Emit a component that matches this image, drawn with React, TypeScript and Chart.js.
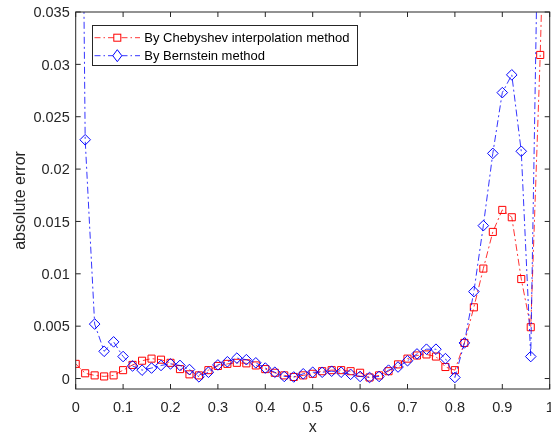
import React, { useEffect, useRef } from 'react';
import { Chart, registerables } from 'chart.js';

Chart.register(...registerables);

// ---- data ----
const xValues = [
  0, 0.02, 0.04, 0.06, 0.08, 0.1, 0.12, 0.14, 0.16, 0.18,
  0.2, 0.22, 0.24, 0.26, 0.28, 0.3, 0.32, 0.34, 0.36, 0.38,
  0.4, 0.42, 0.44, 0.46, 0.48, 0.5, 0.52, 0.54, 0.56, 0.58,
  0.6, 0.62, 0.64, 0.66, 0.68, 0.7, 0.72, 0.74, 0.76, 0.78,
  0.8, 0.82, 0.84, 0.86, 0.88, 0.9, 0.92, 0.94, 0.96, 0.98, 1.0,
];

const chebyshevErr = [
  0.0014, 0.0005, 0.0003, 0.0002, 0.0003, 0.0008, 0.0013, 0.0017, 0.0019, 0.0018,
  0.0015, 0.0009, 0.0004, 0.0003, 0.0008, 0.0012, 0.0014, 0.0015, 0.00145, 0.00125,
  0.0009, 0.00055, 0.0003, 0.00015, 0.0003, 0.00045, 0.0007, 0.0008, 0.0008, 0.0007,
  0.00055, 0.0001, 0.0003, 0.0007, 0.00135, 0.0019, 0.0022, 0.0023, 0.0021, 0.0011,
  0.0008, 0.0034, 0.0068, 0.0105, 0.014, 0.0161, 0.0154, 0.0095, 0.0049, 0.0309, 0.064,
];

const bernsteinErr = [
  0.12, 0.0228, 0.0052, 0.0026, 0.0035, 0.0021, 0.0012, 0.0008, 0.001, 0.00125,
  0.0014, 0.00125, 0.00086, 0.00016, 0.0006, 0.0013, 0.0016, 0.00195, 0.0018, 0.0015,
  0.001, 0.0006, 0.0002, 0.00015, 0.00045, 0.0006, 0.0006, 0.0007, 0.0006, 0.0004,
  0.0002, 0.0001, 0.0002, 0.0008, 0.0011, 0.0017, 0.00235, 0.0028, 0.0028, 0.0019,
  0.0001, 0.0034, 0.0083, 0.0146, 0.0215, 0.0273, 0.029, 0.0217, 0.0021, 0.057, 0.1,
];

const seriesLabels = ['By Chebyshev interpolation method', 'By Bernstein method'];
const xTickValues = [0, 0.1, 0.2, 0.3, 0.4, 0.5, 0.6, 0.7, 0.8, 0.9, 1];
const xTickLabels = ['0', '0.1', '0.2', '0.3', '0.4', '0.5', '0.6', '0.7', '0.8', '0.9', '1'];
const yTickValues = [0, 0.005, 0.01, 0.015, 0.02, 0.025, 0.03, 0.035];
const yTickLabels = ['0', '0.005', '0.01', '0.015', '0.02', '0.025', '0.03', '0.035'];
const xAxisTitle = 'x';
const yAxisTitle = 'absolute error';

const RED = '#ff0000';
const BLUE = '#0000ff';
const AXIS = '#262626';
const FONT = '"Liberation Sans", Arial, Helvetica, sans-serif';
const CANVAS_W = 556;
const CANVAS_H = 433;

const matlabAxes = {
  id: 'matlabAxes',
  afterDraw(chart: any) {
    const { ctx, chartArea: a, scales } = chart;
    const xs = scales.x;
    const ys = scales.y;
    ctx.save();
    ctx.strokeStyle = AXIS;
    ctx.lineWidth = 1;
    ctx.setLineDash([]);
    // box
    ctx.strokeRect(a.left, a.top, a.right - a.left, a.bottom - a.top);
    const TL = 5;
    ctx.beginPath();
    xTickValues.forEach((v) => {
      const px = xs.getPixelForValue(v);
      ctx.moveTo(px, a.bottom);
      ctx.lineTo(px, a.bottom - TL);
      ctx.moveTo(px, a.top);
      ctx.lineTo(px, a.top + TL);
    });
    yTickValues.forEach((v) => {
      const py = ys.getPixelForValue(v);
      ctx.moveTo(a.left, py);
      ctx.lineTo(a.left + TL, py);
      ctx.moveTo(a.right, py);
      ctx.lineTo(a.right - TL, py);
    });
    ctx.stroke();

    // tick labels
    ctx.fillStyle = AXIS;
    ctx.font = `14.5px ${FONT}`;
    ctx.textBaseline = 'alphabetic';
    ctx.textAlign = 'center';
    xTickValues.forEach((v, i) => {
      ctx.fillText(xTickLabels[i], xs.getPixelForValue(v), 411.5);
    });
    ctx.textAlign = 'right';
    yTickValues.forEach((v, i) => {
      ctx.fillText(yTickLabels[i], a.left - 6, ys.getPixelForValue(v) + 5.2);
    });

    // axis titles
    ctx.font = `16px ${FONT}`;
    ctx.textAlign = 'center';
    ctx.fillText(xAxisTitle, xs.getPixelForValue(0.5), 431.5);
    ctx.save();
    ctx.translate(25, (a.top + a.bottom) / 2);
    ctx.rotate(-Math.PI / 2);
    ctx.fillText(yAxisTitle, 0, 0);
    ctx.restore();

    // legend
    const bx = 92.5, by = 25.5, bw = 265, bh = 40;
    ctx.fillStyle = '#ffffff';
    ctx.fillRect(bx, by, bw, bh);
    ctx.strokeStyle = AXIS;
    ctx.lineWidth = 1;
    ctx.strokeRect(bx, by, bw, bh);
    const rows = [37.7, 55.7];
    const colors = [RED, BLUE];
    rows.forEach((ry, i) => {
      ctx.strokeStyle = colors[i];
      ctx.lineWidth = 0.8;
      ctx.setLineDash([6, 3, 1.5, 3]);
      ctx.beginPath();
      ctx.moveTo(94.5, ry);
      ctx.lineTo(140, ry);
      ctx.stroke();
      ctx.setLineDash([]);
      ctx.lineWidth = 1;
      const mx = 117.3;
      ctx.fillStyle = '#ffffff';
      if (i === 0) {
        ctx.fillRect(mx - 3.5, ry - 3.5, 7, 7);
        ctx.strokeRect(mx - 3.5, ry - 3.5, 7, 7);
      } else {
        ctx.beginPath();
        ctx.moveTo(mx, ry - 6);
        ctx.lineTo(mx + 4.5, ry);
        ctx.lineTo(mx, ry + 6);
        ctx.lineTo(mx - 4.5, ry);
        ctx.closePath();
        ctx.fill();
        ctx.stroke();
      }
      ctx.fillStyle = '#000000';
      ctx.font = `13px ${FONT}`;
      ctx.textAlign = 'left';
      ctx.textBaseline = 'alphabetic';
      ctx.fillText(seriesLabels[i], 144.3, ry + 4.6);
    });
    ctx.restore();
  },
};

export default function App() {
  const ref = useRef<HTMLCanvasElement | null>(null);

  useEffect(() => {
    document.body.style.margin = '0';
    document.body.style.overflow = 'hidden';
    const canvas = ref.current;
    if (!canvas) return;
    const toPts = (ys: number[]) => xValues.map((x, i) => ({ x, y: ys[i] }));
    const chart = new Chart(canvas, {
      type: 'line',
      data: {
        datasets: [
          {
            label: seriesLabels[0],
            data: toPts(chebyshevErr),
            borderColor: RED,
            borderWidth: 0.8,
            borderDash: [7, 3, 2, 3],
            pointStyle: 'rect',
            pointRadius: 5,
            pointBorderWidth: 1,
            pointBorderColor: RED,
            pointBackgroundColor: 'rgba(0,0,0,0)',
            tension: 0,
            order: 1,
          },
          {
            label: seriesLabels[1],
            data: toPts(bernsteinErr),
            borderColor: BLUE,
            borderWidth: 0.8,
            borderDash: [7, 3, 2, 3],
            pointStyle: 'rectRot',
            pointRadius: 5.3,
            pointBorderWidth: 1,
            pointBorderColor: BLUE,
            pointBackgroundColor: 'rgba(0,0,0,0)',
            tension: 0,
            order: 0,
          },
        ],
      },
      options: {
        animation: false,
        responsive: false,
        devicePixelRatio: 1,
        events: [],
        layout: { padding: { top: 12, left: 0, right: CANVAS_W - 552.7, bottom: 0 } },
        plugins: { legend: { display: false }, tooltip: { enabled: false } },
        scales: {
          x: {
            type: 'linear',
            min: 0,
            max: 1,
            ticks: { display: false },
            grid: { display: false },
            border: { display: false },
            afterFit: (s: any) => { s.height = CANVAS_H - 389; },
          },
          y: {
            type: 'linear',
            min: -0.001,
            max: 0.035,
            ticks: { display: false },
            grid: { display: false },
            border: { display: false },
            afterFit: (s: any) => { s.width = 75.7; },
          },
        },
      },
      plugins: [matlabAxes],
    } as any);
    return () => chart.destroy();
  }, []);

  return (
    <div style={{ position: 'fixed', left: 0, top: 0, width: 551, height: 433, overflow: 'hidden', background: '#fff' }}>
      <canvas ref={ref} width={CANVAS_W} height={CANVAS_H} style={{ display: 'block' }} />
    </div>
  );
}
